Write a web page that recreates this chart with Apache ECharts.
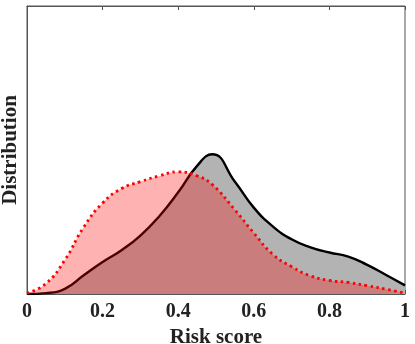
<!DOCTYPE html>
<html>
<head>
<meta charset="utf-8">
<script src="https://cdn.jsdelivr.net/npm/echarts@6/dist/echarts.min.js"></script>
<style>
html, body { margin: 0; padding: 0; background: #fff; }
#chart { width: 415px; height: 344px; }
</style>
</head>
<body>
<div id="chart"></div>
<script>
// risk score grid and the two density curves
const xs = [0, 0.05, 0.1, 0.15, 0.2, 0.25, 0.3, 0.35, 0.4, 0.45, 0.49, 0.55, 0.6, 0.65, 0.7, 0.75, 0.8, 0.85, 0.9, 0.95, 1]
const grayY = [0, 0.003, 0.018, 0.065, 0.111, 0.152, 0.203, 0.27, 0.353, 0.445, 0.485, 0.39, 0.3, 0.235, 0.19, 0.162, 0.144, 0.13, 0.101, 0.066, 0.03]
const redY = [0.003, 0.036, 0.118, 0.232, 0.316, 0.366, 0.39, 0.41, 0.424, 0.41, 0.38, 0.292, 0.212, 0.138, 0.095, 0.063, 0.047, 0.04, 0.029, 0.017, 0.003]
const xTicks = [0, 0.2, 0.4, 0.6, 0.8, 1]

const pairs = (ys) => xs.map((x, i) => [x, ys[i]])
const font = 'Liberation Serif'

let chart = echarts.init(document.getElementById('chart'), null, {renderer: 'canvas'})
let option = {
    backgroundColor: '#fff',
    animation: false,
    grid: {
        left: 27, right: 10, top: 6, bottom: 50,
        outerBoundsMode: 'none', containLabel: false,
        show: true, borderColor: '#555', borderWidth: 1
    },
    xAxis: [{
        type: 'value', min: 0, max: 1, interval: 0.2,
        name: 'Risk score', nameLocation: 'middle', nameGap: 31,
        nameTextStyle: {fontFamily: font, fontWeight: 'bold', fontSize: 21, color: '#222'},
        axisLine: {show: true, lineStyle: {color: '#555'}},
        axisTick: {show: true, inside: true, length: 4, lineStyle: {color: '#555'}},
        axisLabel: {
            fontFamily: font, fontWeight: 'bold', fontSize: 20, color: '#222', margin: 8,
            formatter: (v) => xTicks.indexOf(Math.round(v * 10) / 10) >= 0 ? String(Math.round(v * 10) / 10) : ''
        },
        splitLine: {show: false}
    }, {
        type: 'value', min: 0, max: 1, interval: 0.2, position: 'top',
        axisLine: {show: true, lineStyle: {color: '#555'}},
        axisTick: {show: true, inside: true, length: 4, lineStyle: {color: '#555'}},
        axisLabel: {show: false},
        splitLine: {show: false}
    }],
    yAxis: {
        type: 'value', min: 0, max: 1,
        name: 'Distribution', nameLocation: 'middle', nameGap: 6,
        nameTextStyle: {fontFamily: font, fontWeight: 'bold', fontSize: 21, color: '#222'},
        axisLine: {show: true, lineStyle: {color: '#555'}},
        axisTick: {show: false},
        axisLabel: {show: false},
        splitLine: {show: false}
    },
    series: [{
        type: 'line', smooth: 0.5, symbol: 'none',
        data: pairs(grayY),
        lineStyle: {color: '#000', width: 2.4},
        areaStyle: {color: '#b3b3b3', opacity: 1},
        z: 2
    }, {
        type: 'line', smooth: 0.5, symbol: 'none',
        data: pairs(redY),
        lineStyle: {color: '#ff0000', width: 2.8, type: [2.5, 3.5]},
        areaStyle: {color: 'rgba(255,0,0,0.3)', opacity: 1},
        z: 3
    }]
}
chart.setOption(option)
</script>
</body>
</html>
